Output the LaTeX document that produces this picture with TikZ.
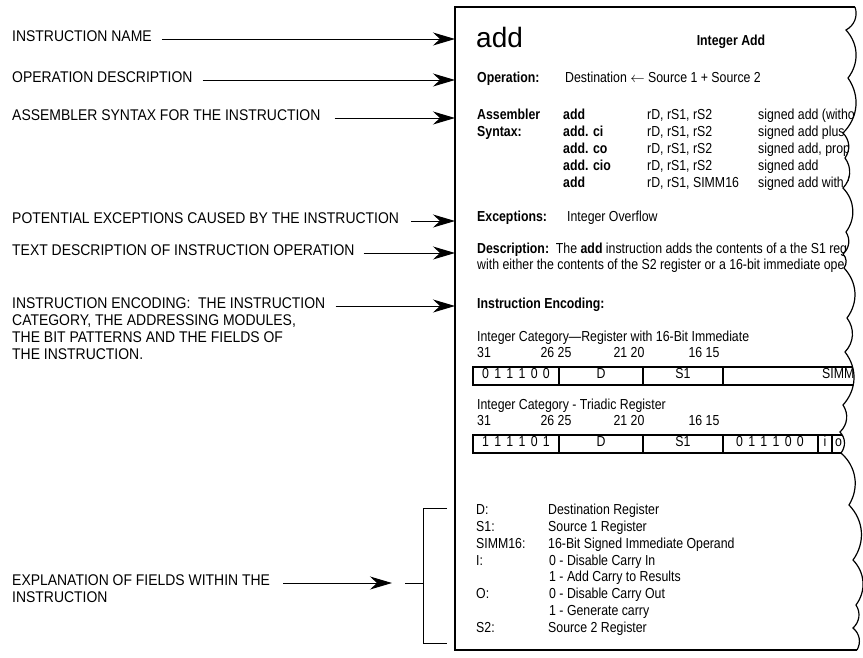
\documentclass[tikz,border=0pt]{standalone}
\usepackage{fontspec}
\setmainfont{Liberation Sans}
\newfontfamily\labfont[FakeStretch=0.9]{Liberation Sans}
\newfontfamily\pagefont[FakeStretch=0.85]{Liberation Sans}
\usetikzlibrary{arrows.meta}
\newcommand{\bg}{\kern5.3pt}
\begin{document}
\begin{tikzpicture}[x=1pt,y=-1pt,
  lab/.style={anchor=mid west,inner sep=0pt,font=\labfont\fontsize{15.5}{17}\selectfont},
  txt/.style={anchor=mid west,inner sep=0pt,font=\pagefont\fontsize{14.5}{16}\selectfont},
  btxt/.style={anchor=mid west,inner sep=0pt,font=\pagefont\fontsize{14.5}{16}\selectfont\bfseries},
  ctxt/.style={anchor=mid,inner sep=0pt,font=\pagefont\fontsize{14.5}{16}\selectfont},
  arr/.style={line width=1pt,-{Stealth[length=22pt,width=13pt,inset=7pt]}},
  pageline/.style={line width=2pt,line join=miter},
  cellline/.style={line width=1.2pt},
  raggededge/.style={insert path={
    to[bend left=40] (846,30) to[bend left=40] (848,78) to[bend left=40] (843,133)
    to[bend left=40] (845,158) to[bend left=40] (843,188) to[bend left=40] (846,232)
    to[bend left=40] (843,254) to[bend left=40] (844,268) to[bend left=40] (847,318)
    to[bend left=40] (845,352) to[bend left=40] (843,405) to[bend left=40] (840,432)
    to[bend left=40] (841,453) to[bend left=40] (849,505) to[bend left=40] (853,560)
    to[bend left=40] (856,605) to[bend left=40] (853,628) to[bend left=40] (857,650)}}]
\useasboundingbox (0,0) rectangle (863,657);
\fill[white] (0,0) rectangle (863,657);

% ---------- page frame ----------
\coordinate (pageL) at (455,0);
\draw[pageline] (855,7) -- (455,7) -- (455,650) -- (857,650);
\draw[line width=1.2pt] (855,7) [raggededge];

% ---------- page content (clipped at the torn edge) ----------
\begin{scope}
\clip (455,7) -- (855,7) [raggededge] -- (455,650) -- cycle;

\node[anchor=base west,inner sep=0pt,font=\fontsize{28}{30}\selectfont] (title) at (476,47) {add};
\node[btxt,anchor=mid] (subtitle) at (731,43) {Integer Add};

\node[btxt] (opl) at (477,80) {Operation:};
\node[txt] (opt) at (565,80) {Destination $\leftarrow$ Source 1 + Source 2};

\node[btxt] (asl1) at (477,117) {Assembler};
\node[btxt] (asl2) at (477,134) {Syntax:};
\node[btxt] (m1) at (563,117) {add};
\node[btxt] (m2) at (563,134) {add. ci};
\node[btxt] (m3) at (563,151) {add. co};
\node[btxt] (m4) at (563,168) {add. cio};
\node[btxt] (m5) at (563,185) {add};
\node[txt] (o1) at (647,117) {rD, rS1, rS2};
\node[txt] (o2) at (647,134) {rD, rS1, rS2};
\node[txt] (o3) at (647,151) {rD, rS1, rS2};
\node[txt] (o4) at (647,168) {rD, rS1, rS2};
\node[txt] (o5) at (647,185) {rD, rS1, SIMM16};
\node[txt] (d1) at (758,117) {signed add (witho};
\node[txt] (d2) at (758,134) {signed add plus ca};
\node[txt] (d3) at (758,151) {signed add, prop};
\node[txt] (d4) at (758,168) {signed add};
\node[txt] (d5) at (758,185) {signed add with im};

\node[btxt] (excl) at (477,219) {Exceptions:};
\node[txt] (exct) at (567,219) {Integer Overflow};

\node[txt] (desc1) at (477,251) {\textbf{Description:}\ \ The \textbf{add} instruction adds the contents of a the S1 reg};
\node[txt] (desc2) at (477,267) {with either the contents of the S2 register or a 16-bit immediate ope};

\node[btxt] (encl) at (477,306) {Instruction Encoding:};

% encoding 1
\node[txt] (cat1) at (477,339) {Integer Category—Register with 16-Bit Immediate};
\node[txt] (n1a) at (477,355) {31};
\node[ctxt] (n1b) at (556,355) {26 25};
\node[ctxt] (n1c) at (629,355) {21 20};
\node[ctxt] (n1d) at (704,355) {16 15};
\draw[cellline] (880,367) -- (473,367) -- (473,385) -- (880,385);
\draw[cellline] (559,367) -- (559,385) (643,367) -- (643,385) (723,367) -- (723,385);
\node[ctxt] (b1a) at (516,376) {0\bg1\bg1\bg1\bg0\bg0};
\node[ctxt] (b1b) at (601,376) {D};
\node[ctxt] (b1c) at (683,376) {S1};
\node[txt] (b1d) at (822,376) {SIMM1};

% encoding 2
\node[txt] (cat2) at (477,407) {Integer Category - Triadic Register};
\node[txt] (n2a) at (477,423) {31};
\node[ctxt] (n2b) at (556,423) {26 25};
\node[ctxt] (n2c) at (629,423) {21 20};
\node[ctxt] (n2d) at (704,423) {16 15};
\draw[cellline] (880,435) -- (473,435) -- (473,453) -- (880,453);
\draw[cellline] (559,435) -- (559,453) (643,435) -- (643,453) (723,435) -- (723,453)
  (818,435) -- (818,453) (832,435) -- (832,453);
\node[ctxt] (b2a) at (516,444) {1\bg1\bg1\bg1\bg0\bg1};
\node[ctxt] (b2b) at (601,444) {D};
\node[ctxt] (b2c) at (683,444) {S1};
\node[ctxt] (b2d) at (770,444) {0\bg1\bg1\bg1\bg0\bg0};
\node[ctxt] (b2e) at (825,444) {i};
\node[txt] (b2f) at (835,444) {o};

% legend
\node[txt] (g1) at (476,512) {D:};
\node[txt] (g2) at (476,529) {S1:};
\node[txt] (g3) at (476,546) {SIMM16:};
\node[txt] (g4) at (476,563) {I:};
\node[txt] (g6) at (476,596) {O:};
\node[txt] (g8) at (476,630) {S2:};
\node[txt] (h1) at (548,512) {Destination Register};
\node[txt] (h2) at (548,529) {Source 1 Register};
\node[txt] (h3) at (548,546) {16-Bit Signed Immediate Operand};
\node[txt] (h4) at (549,563) {0 - Disable Carry In};
\node[txt] (h5) at (549,579) {1 - Add Carry to Results};
\node[txt] (h6) at (549,596) {0 - Disable Carry Out};
\node[txt] (h7) at (549,613) {1 - Generate carry};
\node[txt] (h8) at (548,630) {Source 2 Register};
\end{scope}

% ---------- left labels ----------
\node[lab] (lname) at (12,39) {INSTRUCTION NAME};
\node[lab] (lop) at (12,80) {OPERATION DESCRIPTION};
\node[lab] (lasm) at (12,118) {ASSEMBLER SYNTAX FOR THE INSTRUCTION};
\node[lab] (lexc) at (12,221) {POTENTIAL EXCEPTIONS CAUSED BY THE INSTRUCTION};
\node[lab] (ldesc) at (12,253) {TEXT DESCRIPTION OF INSTRUCTION OPERATION};
\node[lab] (lenc1) at (12,306) {INSTRUCTION ENCODING:\ \ THE INSTRUCTION};
\node[lab] (lenc2) at (12,323) {CATEGORY, THE ADDRESSING MODULES,};
\node[lab] (lenc3) at (12,340) {THE BIT PATTERNS AND THE FIELDS OF};
\node[lab] (lenc4) at (12,357) {THE INSTRUCTION.};
\node[lab] (lexp1) at (12,583) {EXPLANATION OF FIELDS WITHIN THE};
\node[lab] (lexp2) at (12,600) {INSTRUCTION};

\draw[arr] (lname.mid east) ++(10,0) -- (lname.mid east -| pageL);
\draw[arr] (lop.mid east) ++(10,0) -- (lop.mid east -| pageL);
\draw[arr] (lasm.mid east) ++(14,0) -- (lasm.mid east -| pageL);
\draw[arr] (lexc.mid east) ++(12,0) -- (lexc.mid east -| pageL);
\draw[arr] (ldesc.mid east) ++(9,0) -- (ldesc.mid east -| pageL);
\draw[arr] (lenc1.mid east) ++(10,0) -- (lenc1.mid east -| pageL);

% ---------- bracket for field explanation ----------
\coordinate (bm) at (405,583);
\coordinate (bt) at (447,508);
\coordinate (bb) at (447,643);
\draw[line width=1pt] (bt) -- (423,508) -- (423,643) -- (bb);
\draw[line width=1pt] (bm) -- (423,583);
\draw[arr,shorten >=13pt] (lexp1.mid east) ++(13,0) -- (lexp1.mid east -| bm);
\end{tikzpicture}
\end{document}
